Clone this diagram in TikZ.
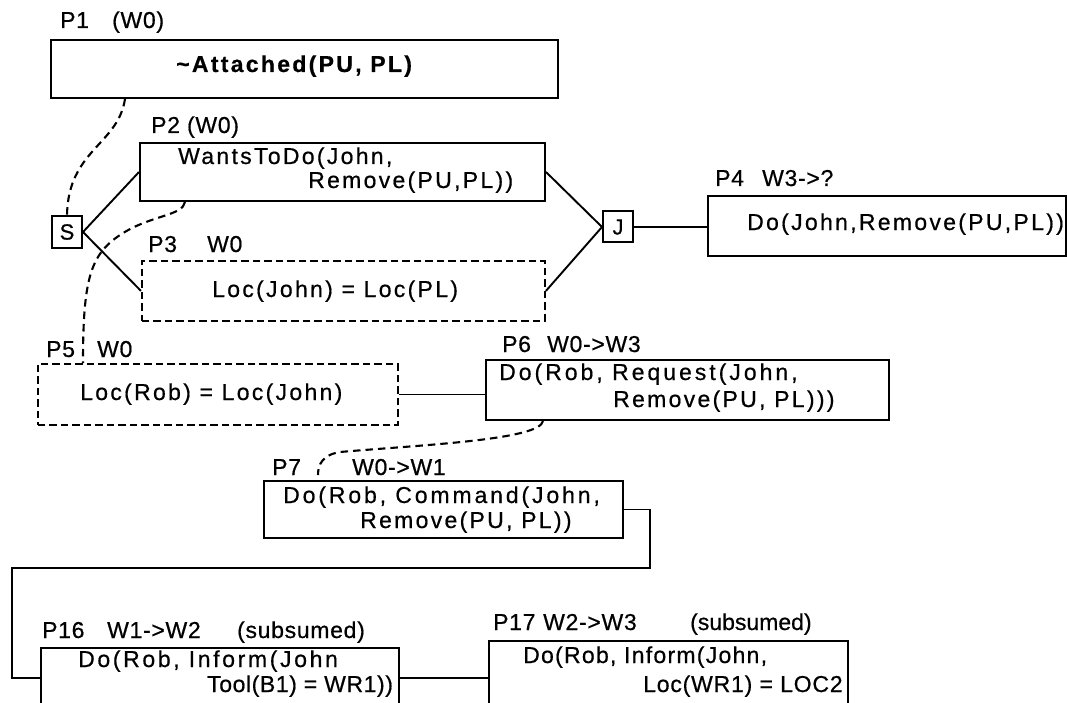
\documentclass[tikz,border=0pt]{standalone}
\usepackage{fontspec}
\setmainfont{Liberation Sans}[FakeBold=0.6]
\newcommand{\lsp}[1]{\addfontfeatures{LetterSpace=#1}}
\begin{document}
\begin{tikzpicture}[x=1pt,y=-1pt,
  box/.style={draw, line width=2pt, rectangle, inner sep=0pt, anchor=north west},
  dbox/.style={box, line width=1.9pt, dash pattern=on 7.5pt off 4pt},
  txt/.style={anchor=base west, inner sep=0pt, font=\fontsize{23}{27}\selectfont},
  lbl/.style={txt, font=\fontsize{23}{27}\selectfont\lsp{3}},
  conn/.style={line width=1.9pt},
  dconn/.style={line width=2.1pt, dash pattern=on 7.5pt off 5pt},
  sbox/.style={draw, line width=2pt, rectangle, inner sep=0pt, minimum width=30, minimum height=31, font=\fontsize{22}{26}\selectfont}
]
\useasboundingbox (0,0) rectangle (1067,703);
\clip (0,0) rectangle (1067,703);

% boxes
\node[box, minimum width=507, minimum height=58] (P1) at (50,39) {};
\node[box, minimum width=405, minimum height=58] (P2) at (139,142) {};
\node[dbox, minimum width=403, minimum height=60] (P3) at (141,260) {};
\node[box, minimum width=358, minimum height=60] (P4) at (707,195) {};
\node[dbox, minimum width=360, minimum height=61] (P5) at (37,363) {};
\node[box, minimum width=403, minimum height=60] (P6) at (485,359) {};
\node[box, minimum width=359, minimum height=57] (P7) at (263,480) {};
\node[box, minimum width=358, minimum height=60] (P16) at (40,647) {};
\node[box, minimum width=359, minimum height=66] (P17) at (488,640) {};
\node[sbox] (S) at (67,232) {S};
\node[sbox] (J) at (618,227) {J};

% labels
\node[lbl] (L1a) at (60,28) {P1};
\node[lbl] (L1b) at (112,28) {(W0)};
\node[lbl] (L2) at (151,133) {P2 (W0)};
\node[lbl] (L3a) at (148,252) {P3};
\node[lbl] (L3b) at (207,252) {W0};
\node[lbl] (L4a) at (715,186) {P4};
\node[lbl] (L4b) at (762,186) {W3->?};
\node[lbl] (L5a) at (46,357) {P5};
\node[lbl] (L5b) at (97,357) {W0};
\node[lbl] (L6a) at (502,352) {P6};
\node[lbl] (L6b) at (547,352) {W0->W3};
\node[lbl] (L7a) at (272,475) {P7};
\node[lbl] (L7b) at (352,475) {W0->W1};
\node[lbl] (L16a) at (42,638) {P16};
\node[lbl] (L16b) at (107,638) {W1->W2};
\node[lbl] (L16c) at (237,638) {(subsumed)};
\node[lbl] (L17a) at (493,630) {P17};
\node[lbl] (L17b) at (543,630) {W2->W3};
\node[lbl] (L17c) at (690,630) {\lsp{0}(subsumed)};

% contents
\node[txt, font=\fontsize{23}{27}\selectfont\bfseries] (T1) at (176,72) {\lsp{10}\textasciitilde Attached(PU, PL)};
\node[txt] (T2a) at (178,164) {\lsp{10}WantsToDo(John,};
\node[txt] (T2b) at (308,188) {\lsp{10}Remove(PU,PL))};
\node[txt] (T3) at (212,297) {\lsp{10}Loc(John) = Loc(PL)};
\node[txt] (T4) at (747,230) {\lsp{10}Do(John,Remove(PU,PL))};
\node[txt] (T5) at (80,400) {\lsp{10}Loc(Rob) = Loc(John)};
\node[txt] (T6a) at (499,380) {\lsp{13}Do(Rob, Request(John,};
\node[txt] (T6b) at (613,407) {\lsp{10}Remove(PU, PL)))};
\node[txt] (T7a) at (283,503) {\lsp{12.5}Do(Rob, Command(John,};
\node[txt] (T7b) at (360,528) {\lsp{10}Remove(PU, PL))};
\node[txt] (T16a) at (78,667) {\lsp{11.5}Do(Rob, Inform(John};
\node[txt] (T16b) at (207,692) {\lsp{2.5}Tool(B1) = WR1))};
\node[txt] (T17a) at (523,663) {\lsp{5.5}Do(Rob, Inform(John,};
\node[txt] (T17b) at (643,692) {\lsp{3.5}Loc(WR1) = LOC2};

% solid connectors
\draw[conn] (S.east) -- (P2.west);
\draw[conn] (S.east) -- (P3.west);
\draw[conn] (P2.east) -- (J.west);
\draw[conn] (P3.east) -- (J.west);
\draw[conn] (J.east) -- (J.east -| P4.west);
\draw[conn] (P5.east) -- (P5.east -| P6.west);
\coordinate (c1) at (650,568);
\coordinate (c2) at (12,568);
\draw[conn] (P7.east) -| (c1) -- (c2) |- (P16.west);
\draw[conn] (P16.east) -- (P16.east -| P17.west);

% dashed connectors
\draw[dconn] ([xshift=75pt]P1.south west) .. controls (118,145) and (68,150) .. (S.north);
\draw[dconn] ([xshift=46pt]P2.south west) .. controls (183,216) and (150,215) .. (120,235)
   .. controls (90,255) and (83,280) .. ([xshift=46pt]P5.north west);
\coordinate (e7) at ([xshift=55pt,yshift=5pt]P7.north west);
\draw[dconn] ([xshift=58pt]P6.south west) .. controls (540,440) and (420,445) .. (340,452)
   .. controls (322,455) and (318,465) .. (e7);
\end{tikzpicture}
\end{document}
